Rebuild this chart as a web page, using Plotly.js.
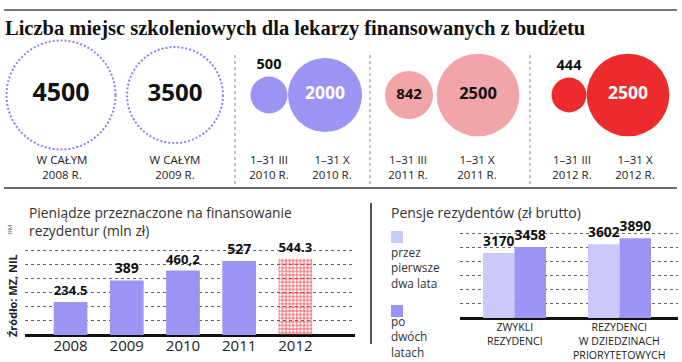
<!DOCTYPE html>
<html>
<head>
<meta charset="utf-8">
<script src="https://cdn.plot.ly/plotly-3.0.1.min.js"></script>
<style>html,body{margin:0;padding:0;background:#fff;}#chart{width:682px;height:362px;}</style>
</head>
<body>
<div id="chart"></div>
<script>
// ---------- DATA ----------
const circleValues = [4500, 3500, 500, 2000, 842, 2500, 444, 2500];
const circleLine1 = ['W CAŁYM', 'W CAŁYM', '1–31 III', '1–31 X', '1–31 III', '1–31 X', '1–31 III', '1–31 X'];
const circleLine2 = ['2008 R.', '2009 R.', '2010 R.', '2010 R.', '2011 R.', '2011 R.', '2012 R.', '2012 R.'];

const years = ['2008', '2009', '2010', '2011', '2012'];
const funding = [234.5, 389, 460.2, 527, 544.3];
const fundingLabels = ['234.5', '389', '460,2', '527', '544.3'];

const salaryCats = ['ZWYKLI<br>REZYDENCI', 'REZYDENCI<br>W DZIEDZINACH<br>PRIORYTETOWYCH'];
const salaryFirst = [3170, 3602];
const salaryAfter = [3458, 3890];
const salaryNames = ['przez<br>pierwsze<br>dwa lata', 'po<br>dwóch<br>latach'];

// ---------- LAYOUT / STYLE ----------
const W = 682, H = 362;
const px = p => p / W;
const py = p => 1 - p / H;
const SANS = 'Open Sans, Noto Sans, sans-serif';
const PURPLE = '#9b94f4', LIGHT = '#cbc8fb', PINK = '#f2a5a9', RED = '#ec2b2c';

const circleX = [61, 175, 269, 325, 409, 478, 569, 628];
const labelX = [62, 175, 269, 332, 408, 477, 572, 635];
const circleY = 95;
const circleFill = ['rgba(0,0,0,0)', 'rgba(0,0,0,0)', PURPLE, PURPLE, PINK, PINK, RED, RED];
const dottedOutline = [true, true, false, false, false, false, false, false];
const valueInside = [true, true, false, true, true, true, false, true];
const valueColor = ['#111', '#111', '#111', '#fff', '#111', '#111', '#111', '#fff'];
const valueSize = [25, 24, 14.5, 17.5, 15, 16.5, 14.5, 17.5];
const maxDiam = 111;
// plotly area mode: radius = sqrt(v / 2 / sizeref)
const sizeref = 2 * Math.max(...circleValues) / (maxDiam * maxDiam);
const radius = v => Math.sqrt(v / (2 * sizeref));

const traces = [];

// circles
traces.push({
  type: 'scatter', mode: 'markers', xaxis: 'x3', yaxis: 'y3',
  x: circleX, y: circleValues.map(() => circleY),
  marker: { size: circleValues, sizemode: 'area', sizeref: sizeref, color: circleFill, opacity: 1, line: { width: 0 } },
  cliponaxis: false, hoverinfo: 'skip', showlegend: false
});
traces.push({
  type: 'scatter', mode: 'text', xaxis: 'x3', yaxis: 'y3',
  x: circleX,
  y: circleValues.map((v, i) => valueInside[i] ? circleY : circleY - radius(v) - 11),
  text: circleValues.map(String),
  textposition: 'middle center',
  textfont: { family: SANS, size: valueSize, color: valueColor, weight: 700 },
  cliponaxis: false, hoverinfo: 'skip', showlegend: false
});
traces.push({
  type: 'scatter', mode: 'text', xaxis: 'x3', yaxis: 'y3',
  x: labelX, y: circleLine1.map(() => 168.5), text: circleLine1.map((t, i) => t + '<br>' + circleLine2[i]),
  textposition: 'middle center', textfont: { family: SANS, size: 11.5, color: '#222' },
  cliponaxis: false, hoverinfo: 'skip', showlegend: false
});

// funding bars
traces.push({
  type: 'bar', x: years, y: funding, xaxis: 'x', yaxis: 'y',
  text: fundingLabels, textposition: 'outside',
  textfont: { family: SANS, size: 14, color: '#111', weight: 700 },
  marker: {
    color: years.map((y, i) => i === years.length - 1 ? '#e8343a' : PURPLE),
    line: { width: 0 },
    pattern: { shape: years.map((y, i) => i === years.length - 1 ? '+' : ''), bgcolor: '#fff', size: 3.6, solidity: 0.35, fillmode: 'replace' }
  },
  cliponaxis: false, hoverinfo: 'skip', showlegend: false
});

// salary bars
const salaryColors = [LIGHT, PURPLE];
[salaryFirst, salaryAfter].forEach((vals, k) => {
  traces.push({
    type: 'bar', name: salaryNames[k], x: salaryCats, y: vals, xaxis: 'x2', yaxis: 'y2',
    text: vals.map(String), textposition: 'outside',
    textfont: { family: SANS, size: 14, color: '#111', weight: 700 },
    marker: { color: salaryColors[k], line: { width: 0 } },
    cliponaxis: false, hoverinfo: 'skip', showlegend: false
  });
});

const shapes = [
  { type: 'line', xref: 'paper', yref: 'paper', x0: px(4), x1: px(677), y0: py(10), y1: py(10), line: { color: '#7a7a7a', width: 2 } },
  { type: 'line', xref: 'paper', yref: 'paper', x0: px(4), x1: px(677), y0: py(188), y1: py(188), line: { color: '#6a6a6a', width: 2 } },
  { type: 'line', xref: 'paper', yref: 'paper', x0: px(235), x1: px(235), y0: py(55), y1: py(184), line: { color: '#8a8a8a', width: 1, dash: 'dot' } },
  { type: 'line', xref: 'paper', yref: 'paper', x0: px(370), x1: px(370), y0: py(55), y1: py(184), line: { color: '#8a8a8a', width: 1, dash: 'dot' } },
  { type: 'line', xref: 'paper', yref: 'paper', x0: px(530), x1: px(530), y0: py(55), y1: py(184), line: { color: '#8a8a8a', width: 1, dash: 'dot' } },
  { type: 'line', xref: 'paper', yref: 'paper', x0: px(371), x1: px(371), y0: py(203), y1: py(344), line: { color: '#555', width: 2 } }
];
// legend swatches
const legendTop = [231, 305];
const legendTextTop = [242, 311];
legendTop.forEach((t, k) => {
  shapes.push({ type: 'rect', xref: 'paper', yref: 'paper', x0: px(391), x1: px(403), y0: py(t + 12), y1: py(t), fillcolor: salaryColors[k], line: { width: 0 } });
});
// dotted outlines of the whole-year circles
circleValues.forEach((v, i) => {
  if (!dottedOutline[i]) return;
  const r = radius(v) - 1;
  shapes.push({ type: 'circle', xref: 'x3', yref: 'y3', x0: circleX[i] - r, x1: circleX[i] + r, y0: circleY - r, y1: circleY + r,
    line: { color: '#8a83ee', width: 2, dash: '2px,2px' }, fillcolor: 'rgba(0,0,0,0)', layer: 'above' });
});

const ann = (text, x, y, opts) => Object.assign({ text: text, xref: 'paper', yref: 'paper', x: px(x), y: py(y), showarrow: false,
  xanchor: 'left', yanchor: 'top', align: 'left', font: { family: SANS, size: 14, color: '#333' } }, opts || {});

const annotations = [
  ann('Pieniądze przeznaczone na finansowanie<br>rezydentur (mln zł)', 27, 201, { font: { family: SANS, size: 13.8, color: '#333' } }),
  ann('Pensje rezydentów (zł brutto)', 389, 201, { font: { family: SANS, size: 14, color: '#333' } }),
  ann('Źródło: MZ, NIL', 12, 296, { xanchor: 'center', yanchor: 'middle', textangle: -90, font: { family: SANS, size: 11, color: '#222', weight: 700 } }),
  ann('RM', 10, 230, { xanchor: 'center', yanchor: 'middle', textangle: -90, font: { family: SANS, size: 6, color: '#444' } })
];
// legend texts
salaryNames.forEach((n, k) => {
  annotations.push(ann(n, 389, legendTextTop[k], { font: { family: SANS, size: 11.8, color: '#333' } }));
});
// category labels of the salary chart, placed on the x2 axis
salaryCats.forEach(c => {
  annotations.push({ text: c, xref: 'x2', yref: 'paper', x: c, y: py(318), xanchor: 'center', yanchor: 'top', showarrow: false,
    align: 'center', font: { family: SANS, size: 10.6, color: '#222' } });
});

const layout = {
  width: W, height: H,
  margin: { l: 0, r: 0, t: 0, b: 0, pad: 0 },
  paper_bgcolor: '#fff', plot_bgcolor: 'rgba(0,0,0,0)',
  title: { text: 'Liczba miejsc szkoleniowych dla lekarzy finansowanych z budżetu', x: px(5), xanchor: 'left', xref: 'paper',
    y: py(28), yanchor: 'middle', yref: 'paper', font: { family: 'Liberation Serif, serif', size: 20.5, weight: 700, color: '#111' } },
  barmode: 'group', bargap: 0.4, bargroupgap: 0,
  showlegend: false,
  xaxis: { domain: [px(25), px(355)], type: 'category', range: [-0.81, 5.06], showgrid: false, zeroline: false, showline: false,
    ticks: '', tickfont: { family: SANS, size: 15, color: '#222' }, fixedrange: true },
  yaxis: { domain: [py(335), py(248)], range: [0, 620], dtick: 100, showgrid: true, griddash: 'dot', gridcolor: '#666', gridwidth: 1,
    zeroline: true, zerolinecolor: '#111', zerolinewidth: 3, showticklabels: false, showline: false, ticks: '', fixedrange: true },
  xaxis2: { domain: [px(460), px(678)], type: 'category', range: [-0.519, 1.557], showgrid: false, zeroline: false, showline: false,
    ticks: '', showticklabels: false, fixedrange: true },
  yaxis2: { domain: [py(318), py(229.85)], range: [0, 4300], dtick: 690, showgrid: true, griddash: 'dot', gridcolor: '#666', gridwidth: 1,
    zeroline: true, zerolinecolor: '#111', zerolinewidth: 3, showticklabels: false, showline: false, ticks: '', fixedrange: true },
  xaxis3: { domain: [0, 1], range: [0, W], visible: false, fixedrange: true },
  yaxis3: { domain: [0, 1], range: [H, 0], visible: false, fixedrange: true },
  shapes: shapes,
  annotations: annotations
};

Plotly.newPlot('chart', traces, layout, { staticPlot: true, displayModeBar: false });
</script>
</body>
</html>
